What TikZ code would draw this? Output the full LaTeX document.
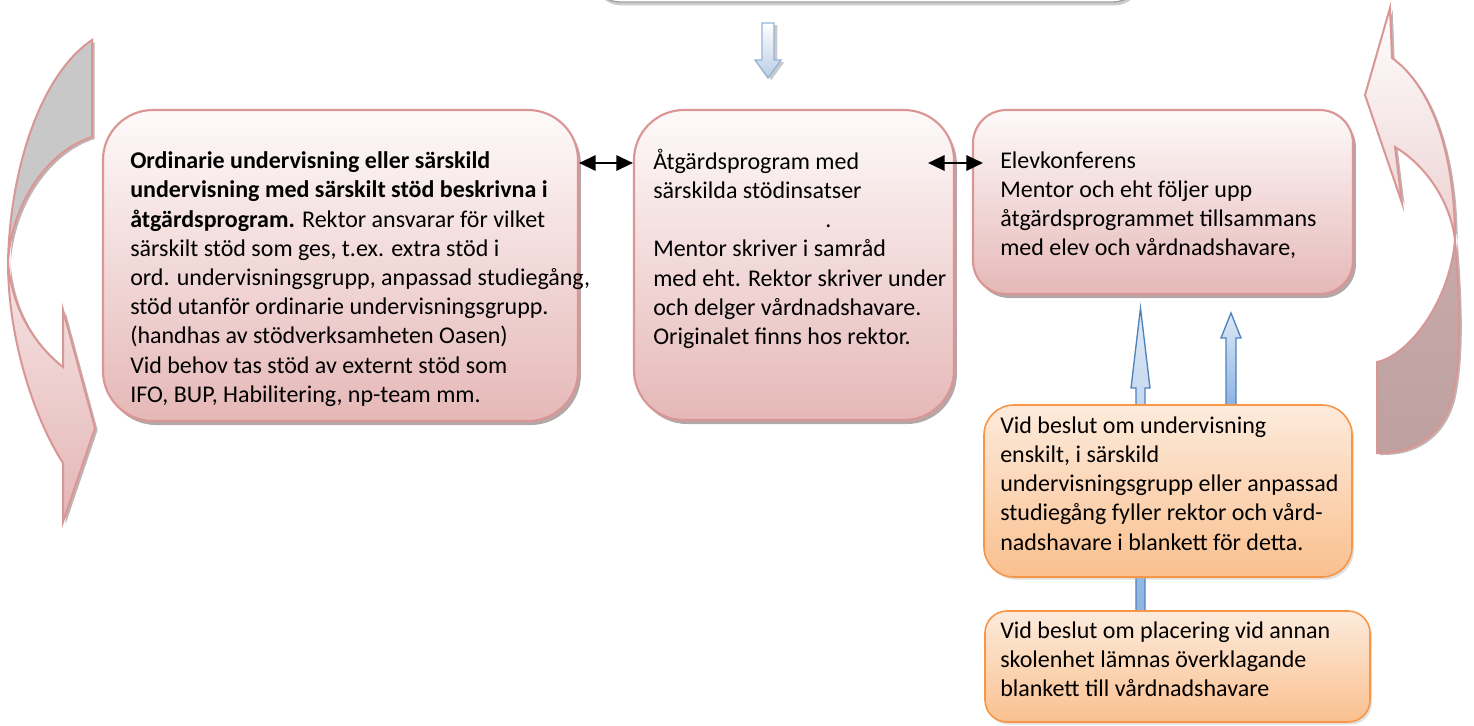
\documentclass[tikz,border=0pt]{standalone}
\usepackage{fontspec}
\setmainfont{Carlito}
\usetikzlibrary{arrows.meta,shadows}
\definecolor{pinkbd}{RGB}{217,150,148}
\definecolor{pinktop}{RGB}{254,250,250}
\definecolor{pinkbot}{RGB}{229,184,183}
\definecolor{orgbd}{RGB}{247,150,70}
\definecolor{orgtop}{RGB}{253,235,220}
\definecolor{orgbot}{RGB}{250,192,143}
\definecolor{bluebd}{RGB}{79,129,189}
\definecolor{bluetop}{RGB}{222,233,246}
\definecolor{bluebot}{RGB}{141,179,226}
\definecolor{lblue}{RGB}{149,179,215}
\definecolor{lbluebot}{RGB}{185,205,229}
\definecolor{backgrey}{RGB}{200,200,200}
\definecolor{backmauve}{RGB}{190,160,160}
\definecolor{backmauvetop}{RGB}{198,170,170}
\definecolor{frontpinktop}{RGB}{246,228,228}
\definecolor{frontpinkbot}{RGB}{228,182,182}
\definecolor{shad}{RGB}{150,130,130}
\begin{document}
\begin{tikzpicture}[x=0.75pt,y=-0.75pt,
  pbox/.style={draw=pinkbd, line width=1.6pt, top color=pinktop, bottom color=pinkbot,
    drop shadow={shadow xshift=2.2pt, shadow yshift=-3pt, fill=shad, opacity=0.7}},
  obox/.style={draw=orgbd, line width=1.2pt, top color=orgtop, bottom color=orgbot,
    drop shadow={shadow xshift=1.5pt, shadow yshift=-2pt, fill=black!30, opacity=0.4}},
  txt/.style={anchor=north west, inner sep=0pt, align=left, font=\fontsize{18}{21.9}\selectfont},
  dbl/.style={line width=1.7pt, {Triangle[length=12.5pt,width=11.5pt]}-{Triangle[length=12.5pt,width=11.5pt]}},
  barrow/.style={draw=bluebd, line width=1pt, top color=bluetop, bottom color=bluebot},
  curvfront/.style={draw=pinkbd, line width=1.5pt},
]
\useasboundingbox (0,0) rectangle (1474,725);

% top box (mostly outside the picture)
\node[draw={rgb,255:red,160;green,160;blue,160}, line width=1pt, fill=white, rounded corners=20pt,
  minimum width=410.25pt, minimum height=61.5pt,
  drop shadow={shadow xshift=1pt, shadow yshift=-2.5pt, fill=black!40, opacity=0.5}] (top) at (866.5,-39) {};

% down arrow
\draw[draw=lblue, line width=1pt, top color=white, bottom color=lbluebot,
  drop shadow={shadow xshift=2.5pt, shadow yshift=-1.5pt, fill=black!35, opacity=0.6}]
  (762,23) -- (774,23) -- (774,60) -- (781,60) -- (768,78) -- (755,60) -- (762,60) -- cycle;

% left curved arrow: back face
\draw[curvfront, fill=backgrey,
  drop shadow={shadow xshift=2pt, shadow yshift=-1.5pt, fill=shad, opacity=0.6}]
  (92,40) .. controls (40,75) and (10,170) .. (8,262)
  .. controls (12,200) and (50,150) .. (92,137) -- cycle;
% left curved arrow: front face with head
\draw[curvfront, top color=frontpinktop, bottom color=frontpinkbot,
  drop shadow={shadow xshift=2pt, shadow yshift=-1.5pt, fill=shad, opacity=0.6}]
  (8,262) .. controls (8,340) and (35,420) .. (63,463)
  -- (63,522) -- (95,428) -- (63,310) -- (63,367)
  .. controls (35,345) and (12,310) .. (8,262) -- cycle;

% right curved arrow: front face with head
\draw[curvfront, top color=white, bottom color={rgb,255:red,236;green,208;blue,208},
  drop shadow={shadow xshift=2pt, shadow yshift=-1.5pt, fill=shad, opacity=0.6}]
  (1390,8) -- (1392,58) .. controls (1430,85) and (1455,150) .. (1455,240)
  .. controls (1450,200) and (1425,165) .. (1395,147)
  -- (1402,203) -- (1365,95) -- cycle;
% right curved arrow: back face
\draw[curvfront, top color=backmauvetop, bottom color=backmauve,
  drop shadow={shadow xshift=2pt, shadow yshift=-1.5pt, fill=shad, opacity=0.6}]
  (1455,240) .. controls (1460,300) and (1462,360) .. (1452,400)
  .. controls (1440,440) and (1410,453) .. (1381,453)
  -- (1377,453) -- (1377,362)
  .. controls (1410,355) and (1450,300) .. (1455,240) -- cycle;

% main pink boxes
\node[pbox, rounded corners=37.5pt, minimum width=356.25pt, minimum height=233.25pt] (b1) at (340.5,265.5) {};
\node[pbox, rounded corners=37.5pt, minimum width=240pt, minimum height=232.5pt] (b2) at (794,265) {};
\node[pbox, rounded corners=25pt, minimum width=285pt, minimum height=138pt] (b3) at (1163,202) {};

% blue up arrows (drawn before the orange boxes, which cover their tails)
\draw[barrow] (1136,612) -- (1136,388) -- (1131,388) -- (1140.5,308) -- (1150,388) -- (1145,388) -- (1145,612) -- cycle;
\draw[barrow] (1226,405) -- (1226,338) -- (1221,338) -- (1231,313) -- (1241,338) -- (1236,338) -- (1236,405) -- cycle;

% orange boxes
\node[obox, rounded corners=22.5pt, minimum width=276pt, minimum height=129pt] (o1) at (1168,491) {};
\node[obox, rounded corners=16.5pt, minimum width=288.75pt, minimum height=83.25pt] (o2) at (1177.5,666.5) {};

% texts
\node[txt] (t1) at (130,148) {\strut\textbf{Ordinarie undervisning eller särskild}\\
\textbf{undervisning med särskilt stöd beskrivna i}\\
\textbf{åtgärdsprogram.} Rektor ansvarar för vilket\\
särskilt stöd som ges, t.ex. extra stöd i\\
ord. undervisningsgrupp, anpassad studiegång,\\
stöd utanför ordinarie undervisningsgrupp.\\
(handhas av stödverksamheten Oasen)\\
Vid behov tas stöd av externt stöd som\\
IFO, BUP, Habilitering, np-team mm.};

\node[txt] (t2) at (653,148.5) {\strut Åtgärdsprogram med\\
särskilda stödinsatser\\
\hspace*{129pt}.\\
Mentor skriver i samråd\\
med eht. Rektor skriver under\\
och delger vårdnadshavare.\\
Originalet finns hos rektor.};

\node[txt] (t3) at (1000,147.5) {\strut Elevkonferens\\
Mentor och eht följer upp\\
åtgärdsprogrammet tillsammans\\
med elev och vårdnadshavare,};

\node[txt] (t4) at (1000,412.5) {\strut Vid beslut om undervisning\\
enskilt, i särskild\\
undervisningsgrupp eller anpassad\\
studiegång fyller rektor och vård-\\
nadshavare i blankett för detta.};

\node[txt] (t5) at (1000,617.5) {\strut Vid beslut om placering vid annan\\
skolenhet lämnas överklagande\\
blankett till vårdnadshavare};

% double arrows
\coordinate (y163) at (0,163);
\draw[dbl] (b1.east |- y163) -- (b2.west |- y163);
\coordinate (d2s) at (928,163);
\coordinate (d2e) at (983,163);
\draw[dbl] (d2s) -- (d2e);
\end{tikzpicture}
\end{document}
